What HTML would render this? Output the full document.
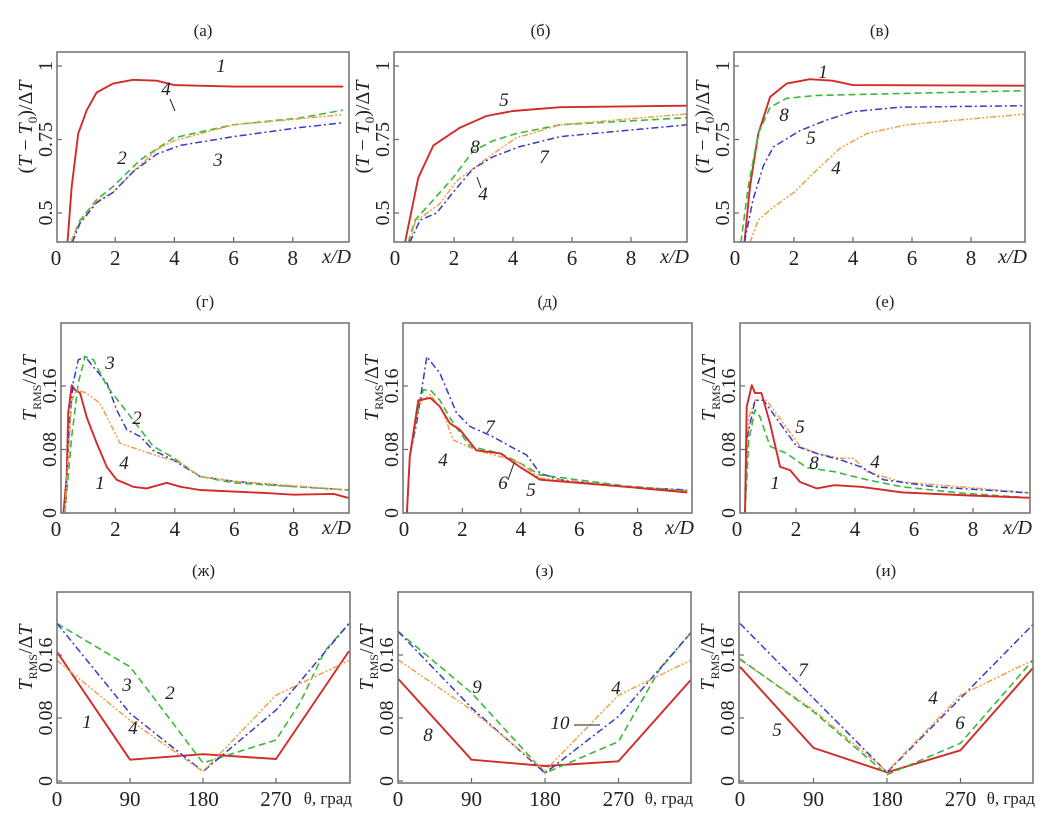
<!DOCTYPE html>
<html><head><meta charset="utf-8">
<style>
html,body{margin:0;padding:0;background:#fff;}
svg{display:block;font-family:"Liberation Serif",serif;}
</style></head>
<body>
<svg id="chart" width="1062" height="825" viewBox="0 0 1062 825" xmlns="http://www.w3.org/2000/svg"></svg>
<script>
// ---------- DATA ----------
const aX1=[0.39,0.53,0.75,1.04,1.37,1.93,2.6,3.4,4.0,4.8,6,8,9.7];
const aV1=[0.40,0.59,0.77,0.85,0.91,0.94,0.953,0.95,0.935,0.933,0.93,0.93,0.93];
const aX2=[0.5,0.81,1.37,1.93,2.84,3.96,5.98,8.24,9.7];
const aV2=[0.40,0.475,0.545,0.59,0.68,0.755,0.80,0.823,0.85];
const aX4=[0.5,0.81,1.37,1.93,2.6,3.4,3.96,6,8.2,9.7];
const aV4=[0.40,0.47,0.54,0.57,0.64,0.715,0.745,0.80,0.82,0.835];
const aX3=[0.55,0.81,1.37,1.93,2.6,3.4,4.2,6,8.2,9.7];
const aV3=[0.40,0.465,0.535,0.57,0.64,0.70,0.73,0.76,0.79,0.807];
const bX5=[0.34,0.79,1.30,2.2,3.1,4.0,5.6,9.9];
const bV5=[0.40,0.62,0.73,0.79,0.83,0.847,0.86,0.865];
const bX8=[0.45,0.68,1.3,1.97,2.64,3.3,4.1,5.6,9.9];
const bV8=[0.40,0.476,0.545,0.62,0.71,0.745,0.77,0.80,0.824];
const bX4=[0.5,0.68,1.5,2.1,2.64,3.3,4.1,5.6,9.9];
const bV4=[0.40,0.47,0.53,0.61,0.65,0.70,0.755,0.80,0.837];
const bX7=[0.5,0.85,1.41,1.97,2.64,3.3,4.2,5.6,9.9];
const bV7=[0.40,0.476,0.50,0.57,0.65,0.69,0.725,0.76,0.80];
const cX1=[0.32,0.51,0.79,1.19,1.75,2.54,3.3,4.0,9.9];
const cV1=[0.40,0.59,0.77,0.895,0.94,0.955,0.95,0.935,0.933];
const cX8=[0.2,0.45,0.79,1.19,1.75,2.77,9.8];
const cV8=[0.40,0.59,0.77,0.86,0.89,0.90,0.916];
const cX5=[0.32,0.61,0.96,1.3,2.2,3.1,4.0,5.6,9.9];
const cV5=[0.40,0.545,0.66,0.725,0.78,0.816,0.845,0.86,0.865];
const cX4=[0.51,0.79,1.3,2.0,2.77,3.56,4.46,5.8,9.9];
const cV4=[0.40,0.476,0.52,0.57,0.646,0.72,0.77,0.80,0.837];
const dX1=[0.25,0.36,0.41,0.53,0.64,0.81,1.03,1.37,1.71,2.04,2.6,3.05,3.73,4.2,4.85,7.1,8.0,9.35,9.85];
const dV1=[0,0.046,0.126,0.161,0.155,0.151,0.121,0.088,0.058,0.042,0.033,0.031,0.038,0.033,0.029,0.025,0.023,0.024,0.019];
const dX3=[0.3,0.47,0.58,0.75,0.98,1.26,1.71,2.04,2.38,2.85,3.27,3.94,4.85,5.97,7.1,8.2,9.85];
const dV3=[0,0.121,0.164,0.193,0.197,0.184,0.164,0.13,0.105,0.096,0.079,0.067,0.046,0.040,0.036,0.033,0.029];
const dX2=[0.3,0.53,0.75,0.98,1.26,1.71,2.6,3.27,3.94,4.85,5.97,9.85];
const dV2=[0,0.096,0.164,0.197,0.193,0.16,0.117,0.084,0.07,0.046,0.038,0.029];
const dX4=[0.3,0.53,0.7,1.03,1.48,1.93,2.15,2.85,3.5,4.2,4.85,5.97,9.85];
const dV4=[0,0.142,0.155,0.151,0.138,0.105,0.088,0.079,0.071,0.063,0.046,0.040,0.029];
const eX7=[0.1,0.2,0.43,0.78,1.23,1.8,2.26,3.05,3.63,4.2,4.66,5.34,7.6,9.7];
const eV7=[0,0.071,0.113,0.197,0.176,0.126,0.109,0.096,0.084,0.073,0.05,0.042,0.033,0.029];
const eX6=[0.1,0.2,0.43,0.66,0.9,1.23,1.69,2.26,3.3,3.97,4.66,7.6,9.7];
const eV6=[0,0.071,0.121,0.155,0.155,0.142,0.113,0.084,0.075,0.063,0.048,0.034,0.028];
const eX5=[0.1,0.2,0.49,0.9,1.23,1.57,1.91,2.48,3.3,3.97,4.66,7.6,9.7];
const eV5=[0,0.071,0.142,0.145,0.134,0.113,0.105,0.079,0.075,0.058,0.042,0.033,0.026];
const eX4=[0.1,0.2,0.49,0.9,1.3,1.69,2.48,3.3,3.97,4.66,7.6,9.7];
const eV4=[0,0.071,0.138,0.149,0.13,0.092,0.079,0.071,0.063,0.044,0.033,0.027];
const fX1=[0.27,0.33,0.5,0.61,0.83,1.12,1.46,1.8,2.14,2.7,3.3,4.2,5.6,7.9,10];
const fV1=[0,0.134,0.161,0.151,0.151,0.113,0.058,0.054,0.039,0.031,0.035,0.033,0.026,0.022,0.019];
const fX5=[0.27,0.33,0.61,0.9,1.46,2.02,2.7,3.5,4.2,4.97,6.7,10];
const fV5=[0,0.092,0.142,0.142,0.113,0.084,0.075,0.067,0.058,0.042,0.033,0.025];
const fX4=[0.27,0.4,0.61,1.0,1.57,2.14,2.7,3.5,3.96,4.4,5.6,7.6,10];
const fV4=[0,0.12,0.142,0.142,0.113,0.084,0.075,0.069,0.069,0.052,0.039,0.033,0.025];
const fX8=[0.27,0.4,0.61,0.78,1.12,1.68,2.37,3.3,4.4,5.6,7.6,10];
const fV8=[0,0.092,0.13,0.121,0.084,0.075,0.057,0.052,0.042,0.033,0.025,0.019];
const gT=[0,90,180,270,360];
const gV1=[0.164,0.027,0.034,0.028,0.165];
const gT2=[0,90,105,180,270,300,330,360];
const gV2=[0.2,0.145,0.125,0.023,0.052,0.10,0.165,0.2];
const gV3=[0.2,0.086,0.012,0.09,0.2];
const gV4=[0.153,0.077,0.012,0.109,0.153];
const hT=[0,90,180,270,360];
const hV8=[0.130,0.027,0.019,0.025,0.130];
const hT9=[0,90,180,270,320,360];
const hV9=[0.19,0.112,0.01,0.05,0.141,0.19];
const hV10=[0.19,0.093,0.01,0.082,0.19];
const hV4=[0.154,0.09,0.013,0.109,0.154];
const iT=[0,90,180,270,360];
const iV5=[0.145,0.042,0.011,0.039,0.145];
const iV7=[0.2,0.105,0.011,0.105,0.2];
const iV4=[0.154,0.09,0.012,0.109,0.154];
const iV6=[0.155,0.088,0.008,0.048,0.155];

const xTicksD=[0,2,4,6,8];
const xTickLabelsD=['0','2','4','6','8'];
const yTicksTop=[0.5,0.75,1];
const yTickLabelsTop=['0.5','0.75','1'];
const yTicksRms=[0,0.08,0.16];
const yTickLabelsRms=['0','0.08','0.16'];
const xTicksTh=[0,90,180,270];
const xTickLabelsTh=['0','90','180','270'];

const ST={
  red:{c:'#d42a2a',d:'',w:1.9},
  green:{c:'#3cb83c',d:'7,4',w:1.6},
  blue:{c:'#3a3ac8',d:'7,3,2,3',w:1.5},
  orange:{c:'#f0a048',d:'6,2,2,2,2,2',w:1.5}
};
const NS='http://www.w3.org/2000/svg';
const svg=document.getElementById('chart');
function el(tag,attrs,parent){const e=document.createElementNS(NS,tag);for(const k in attrs)e.setAttribute(k,attrs[k]);(parent||svg).appendChild(e);return e;}

const panels=[
 {key:'a',title:'(а)',box:[57,52,349,242],xs:v=>56+v*29.6,ys:v=>66+(1-v)*294,top:true,
  series:[[aX1,aV1,'red'],[aX2,aV2,'green'],[aX4,aV4,'orange'],[aX3,aV3,'blue']],
  labels:[['1',221,72],['4',166,95],['2',122,164],['3',218,166]],leaders:[[170,99,175,111]]},
 {key:'b',title:'(б)',box:[394,52,687,242],xs:v=>395+v*29.5,ys:v=>66+(1-v)*294,top:true,
  series:[[bX5,bV5,'red'],[bX8,bV8,'green'],[bX4,bV4,'orange'],[bX7,bV7,'blue']],
  labels:[['5',504,106],['8',475,153],['4',483,200],['7',544,163]],leaders:[[477,177,481,188]]},
 {key:'c',title:'(в)',box:[734,52,1025,242],xs:v=>735+v*29.5,ys:v=>66+(1-v)*294,top:true,
  series:[[cX1,cV1,'red'],[cX8,cV8,'green'],[cX5,cV5,'blue'],[cX4,cV4,'orange']],
  labels:[['1',823,78],['8',784,121],['5',811,144],['4',836,174]],leaders:[]},
 {key:'d',title:'(г)',box:[61,323,349,513],xs:v=>56+v*29.7,ys:v=>513-v*794,top:false,
  series:[[dX1,dV1,'red'],[dX3,dV3,'blue'],[dX2,dV2,'green'],[dX4,dV4,'orange']],
  labels:[['3',110,369],['2',137,424],['4',124,469],['1',100,489]],leaders:[]},
 {key:'e',title:'(д)',box:[403,323,692,513],xs:v=>404+v*29.2,ys:v=>513-v*794,top:false,
  series:[[eX7,eV7,'blue'],[eX6,eV6,'green'],[eX4,eV4,'orange'],[eX5,eV5,'red']],
  labels:[['7',490,433],['4',443,466],['6',503,489],['5',531,496]],leaders:[[508,480,514,463]]},
 {key:'f',title:'(е)',box:[740,323,1030,513],xs:v=>737+v*29.5,ys:v=>513-v*794,top:false,
  series:[[fX4,fV4,'orange'],[fX5,fV5,'blue'],[fX8,fV8,'green'],[fX1,fV1,'red']],
  labels:[['5',800,433],['4',875,468],['8',814,469],['1',775,489]],leaders:[]},
 {key:'g',title:'(ж)',box:[57,592,350,783],xs:v=>57+v*292/360,ys:v=>781-v*787.5,top:false,theta:true,
  series:[[gT,gV1,'red'],[gT2,gV2,'green'],[gT,gV3,'blue'],[gT,gV4,'orange']],
  labels:[['1',87,728],['3',127,691],['2',170,699],['4',133,734]],leaders:[]},
 {key:'h',title:'(з)',box:[398,592,691,783],xs:v=>398+v*294/360,ys:v=>781-v*787.5,top:false,theta:true,
  series:[[hT,hV8,'red'],[hT9,hV9,'green'],[hT,hV10,'blue'],[hT,hV4,'orange']],
  labels:[['9',477,693],['8',428,741],['4',616,694],['10',560,729]],leaders:[[574,725,600,725]]},
 {key:'i',title:'(и)',box:[739,592,1033,783],xs:v=>740+v*294/360,ys:v=>781-v*787.5,top:false,theta:true,
  series:[[iT,iV5,'red'],[iT,iV7,'blue'],[iT,iV4,'orange'],[iT,iV6,'green']],
  labels:[['7',803,676],['5',777,736],['4',933,704],['6',960,729]],leaders:[]}
];

panels.forEach(p=>{
  const g=el('g',{});
  
  
  const [L,T,R,B]=p.box;
  const cx=(L+R)/2;
  const tickx=L-5, labx=L-25;
  const tt=el('text',{x:cx,y:T-16,'font-size':17,'text-anchor':'middle',fill:'#222'},g);
  tt.textContent=p.title;
  
  
  const cp=el('clipPath',{id:'clip-'+p.key},g);
  el('rect',{x:L,y:T,width:R-L,height:B-T},cp);
  const xt=p.theta?xTicksTh:xTicksD, xl=p.theta?xTickLabelsTh:xTickLabelsD;
  xt.forEach((v,i)=>{
    const x=p.xs(v);
    if(i>0) el('line',{x1:x,y1:B,x2:x,y2:B-5,stroke:'#666','stroke-width':1.2},g);
    const t=el('text',{x:x,y:B+23,'font-size':21,'text-anchor':'middle',fill:'#222'},g);
    t.textContent=xl[i];
    
    
  });
  const xtitle=el('text',{x:R+2,y:B+21,'font-size':p.theta?17:20,'text-anchor':'end',fill:'#222','font-style':p.theta?'normal':'italic'},g);
  xtitle.textContent=p.theta?'θ, град':'x/D';
  
  
  const yt=p.top?yTicksTop:yTicksRms, yl=p.top?yTickLabelsTop:yTickLabelsRms;
  yt.forEach((v,i)=>{
    const y=p.ys(v);
    el('line',{x1:L,y1:y,x2:L+5,y2:y,stroke:'#666','stroke-width':1.2},g);
    const t=el('text',{x:tickx,y:y,'font-size':20,'text-anchor':'middle',fill:'#222',transform:`rotate(-90 ${tickx} ${y})`},g);
    t.textContent=yl[i];
    
    
  });
  const ymid=p.top?(T+B)/2-20:(T+B)/2-30;
  const yt2=el('text',{x:labx,y:ymid,'font-size':20,'text-anchor':'middle',fill:'#222',transform:`rotate(-90 ${labx} ${ymid})`},g);
  
  
  if(p.top){
    yt2.innerHTML='(<tspan font-style="italic">T</tspan> − <tspan font-style="italic">T</tspan><tspan font-size="13" dy="5">0</tspan><tspan dy="-5">)/Δ</tspan><tspan font-style="italic">T</tspan>';
  } else {
    yt2.innerHTML='<tspan font-style="italic">T</tspan><tspan font-size="12" dy="5">RMS</tspan><tspan dy="-5">/Δ</tspan><tspan font-style="italic">T</tspan>';
  }
  const sg=el('g',{'clip-path':`url(#clip-${p.key})`},g);
  p.series.forEach(s=>{
    const [xa,va,st]=s;const S=ST[st];
    const d=xa.map((x,i)=>(i?'L':'M')+p.xs(x).toFixed(1)+','+p.ys(va[i]).toFixed(1)).join(' ');
    const path=el('path',{d:d,fill:'none',stroke:S.c,'stroke-width':S.w,'stroke-dasharray':S.d,'stroke-linejoin':'round'},sg);
    
    
  });
  const fr=el('rect',{x:L,y:T,width:R-L,height:B-T,fill:'none',stroke:'#777','stroke-width':1.6},g);
  
  
  p.labels.forEach(l=>{
    const t=el('text',{x:l[1],y:l[2],'font-size':19,'font-style':'italic','text-anchor':'middle',fill:'#222'},g);
    t.textContent=l[0];
    
    
  });
  p.leaders.forEach(l=>{
    const ln=el('line',{x1:l[0],y1:l[1],x2:l[2],y2:l[3],stroke:'#222','stroke-width':1},g);
    
    
  });
});
</script>
</body></html>
